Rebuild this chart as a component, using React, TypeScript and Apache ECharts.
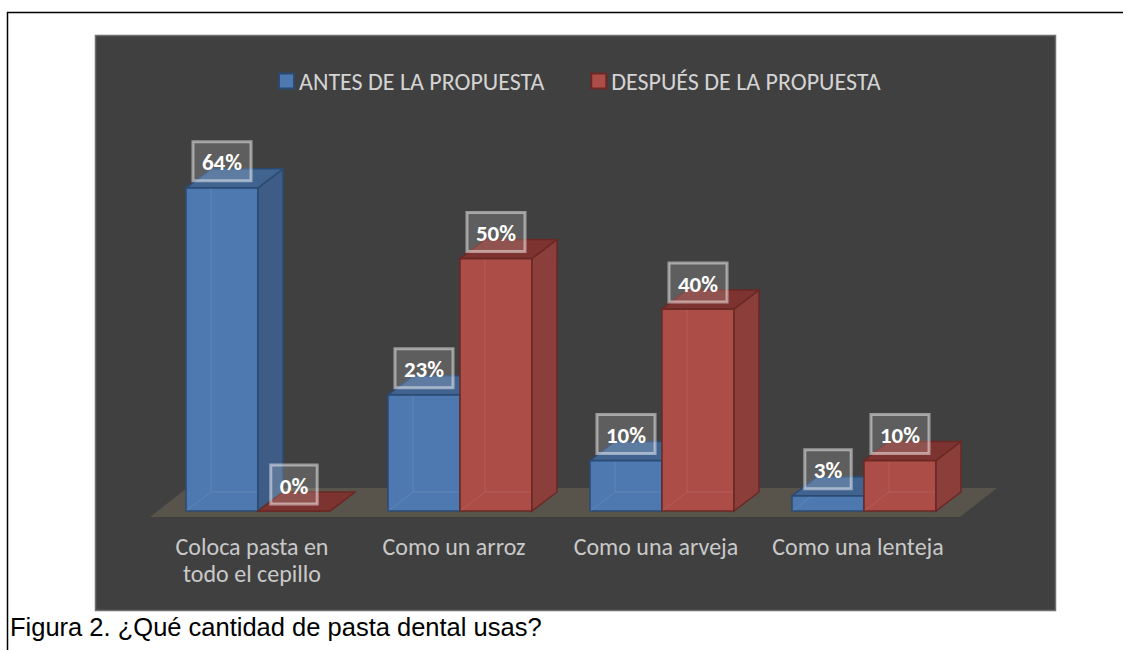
import React, { useEffect, useRef } from "react";
import * as echarts from "echarts";

const categories = ["Coloca pasta en\ntodo el cepillo", "Como un arroz", "Como una arveja", "Como una lenteja"];
const seriesNames = ["ANTES DE LA PROPUESTA", "DESPUÉS DE LA PROPUESTA"];
const antes = [64, 23, 10, 3];
const despues = [0, 50, 40, 10];
const caption = "Figura 2. ¿Qué cantidad de pasta dental usas?";

const FONT = "Carlito, Lato, 'Open Sans', sans-serif";

const palettes = [
  { front: "#4e79b0", side: "#3e5d86", top: "#40638f", edge: "#2b4a72" },
  { front: "#ad4d48", side: "#8c3e3a", top: "#7d332f", edge: "#6a2825" },
];

const DX = 25;
const DY = -19;

function makeRender(si: number) {
  const pal = palettes[si];
  return (params: any, api: any) => {
    const ci = api.value(0);
    const v = api.value(1);
    const topPt = api.coord([ci, v]);
    const base = api.coord([ci, 0]);
    const band = api.size([1, 0])[0];
    const w = band * 0.3564;
    const x0 = si === 0 ? base[0] - w : base[0];
    const x1 = x0 + w;
    const yb = base[1];
    const yt = topPt[1];
    const edge = { stroke: pal.edge, lineWidth: 1.5 };
    return {
      type: "group",
      children: [
        {
          type: "rect",
          shape: { x: x0, y: yt, width: w, height: yb - yt },
          style: { fill: pal.front, ...edge },
        },
        {
          type: "polyline",
          shape: { points: [[x0, yb], [x0 + DX, yb + DY], [x0 + DX, yt + DY]] },
          style: { stroke: "rgba(255,255,255,0.09)", lineWidth: 1, fill: null },
        },
        {
          type: "line",
          shape: { x1: x0 + DX, y1: yb + DY, x2: x1 + DX, y2: yb + DY },
          style: { stroke: "rgba(255,255,255,0.09)", lineWidth: 1 },
        },
        {
          type: "polygon",
          shape: { points: [[x1, yt], [x1 + DX, yt + DY], [x1 + DX, yb + DY], [x1, yb]] },
          style: { fill: pal.side, ...edge },
        },
        {
          type: "polygon",
          shape: { points: [[x0, yt], [x0 + DX, yt + DY], [x1 + DX, yt + DY], [x1, yt]] },
          style: { fill: pal.top, ...edge },
        },
        {
          type: "text",
          z2: 100,
          x: (x0 + x1) / 2,
          y: yt - 7,
          style: {
            text: v + "%",
            fill: "#ffffff",
            font: "bold 23px " + FONT,
            align: "center",
            verticalAlign: "bottom",
            backgroundColor: "rgba(255,255,255,0.16)",
            borderColor: "rgba(255,255,255,0.48)",
            borderWidth: 1.5,
            padding: [9, 9, 7, 9],
          },
        },
      ],
    };
  };
}

function renderFloor(params: any, api: any) {
  const cs = params.coordSys;
  const yb = api.coord([0, 0])[1];
  const fy = yb + 6;
  const left = cs.x - 7;
  const right = cs.x + cs.width - 5;
  return {
    type: "polygon",
    shape: {
      points: [
        [left, fy],
        [right, fy],
        [right + 37, fy - 29],
        [left + 37, fy - 29],
      ],
    },
    style: { fill: "#58544b" },
  };
}

export default function App() {
  const ref = useRef<HTMLDivElement>(null);
  useEffect(() => {
    if (!ref.current) return;
    const chart = echarts.init(ref.current, null, { renderer: "svg" });
    const option: any = {
      animation: false,
      backgroundColor: "#ffffff",
      graphic: [
        { type: "line", shape: { x1: 7, y1: 12.5, x2: 1123, y2: 12.5 }, style: { stroke: "#000", lineWidth: 1.5 }, z: 0 },
        { type: "line", shape: { x1: 7.5, y1: 12, x2: 7.5, y2: 650 }, style: { stroke: "#000", lineWidth: 1.5 }, z: 0 },
        {
          type: "rect",
          shape: { x: 95.5, y: 35.5, width: 960, height: 575 },
          style: { fill: "#404040", stroke: "#6e6e6e", lineWidth: 1.5 },
          z: 0,
        },
        {
          type: "text",
          x: 10,
          y: 627,
          style: {
            text: caption,
            font: "25.5px 'Liberation Sans', Arial, sans-serif",
            fill: "#000",
            verticalAlign: "middle",
          },
          z: 0,
        },
      ],
      legend: {
        data: seriesNames,
        left: 273,
        top: 64,
        icon: "rect",
        itemWidth: 15,
        itemHeight: 15,
        itemGap: 46,
        textStyle: { color: "#d4d4d4", fontSize: 24, fontFamily: FONT },
      },
      grid: [
        { left: 157, top: 157.5, width: 808, height: 353.5 },
        { left: 151, top: 510, width: 808, height: 1 },
      ],
      xAxis: [
        {
          type: "category",
          data: categories,
          gridIndex: 0,
          show: false,
        },
        {
          type: "category",
          data: categories,
          gridIndex: 1,
          axisLine: { show: false },
          axisTick: { show: false },
          axisLabel: {
            color: "#c9c9c9",
            fontSize: 24,
            fontFamily: FONT,
            lineHeight: 27,
            margin: 22,
            interval: 0,
          },
        },
      ],
      yAxis: [
        { type: "value", min: 0, max: 70, show: false, gridIndex: 0 },
        { type: "value", show: false, gridIndex: 1 },
      ],
      series: [
        {
          type: "custom",
          name: "floor",
          silent: true,
          z: 1,
          xAxisIndex: 0,
          yAxisIndex: 0,
          renderItem: renderFloor,
          data: [[0, 0]],
        },
        {
          type: "custom",
          name: seriesNames[0],
          z: 2,
          xAxisIndex: 0,
          yAxisIndex: 0,
          itemStyle: { color: palettes[0].front, borderColor: palettes[0].edge, borderWidth: 1.5 },
          renderItem: makeRender(0),
          data: antes.map((v, i) => [i, v]),
        },
        {
          type: "custom",
          name: seriesNames[1],
          z: 2,
          xAxisIndex: 0,
          yAxisIndex: 0,
          itemStyle: { color: palettes[1].front, borderColor: palettes[1].edge, borderWidth: 1.5 },
          renderItem: makeRender(1),
          data: despues.map((v, i) => [i, v]),
        },
      ],
    };
    chart.setOption(option);
    return () => chart.dispose();
  }, []);
  return <div ref={ref} style={{ position: "fixed", left: 0, top: 0, width: 1123, height: 650 }} />;
}
